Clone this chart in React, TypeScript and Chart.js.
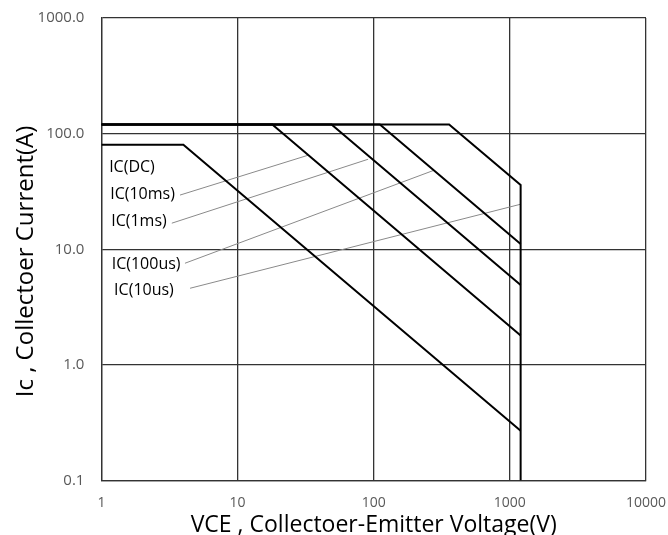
import React, { useEffect, useRef } from "react";
import { Chart, registerables } from "chart.js";

Chart.register(...registerables);

// Axis ticks
const xTickValues = [1, 10, 100, 1000, 10000];
const yTickValues = [0.1, 1, 10, 100, 1000];

// Safe operating area curves (VCE in V, Ic in A)
const dcVoltage = [1, 4, 1200];
const dcCurrent = [80, 80, 0.27];
const ms10Voltage = [1, 18, 1200];
const ms10Current = [120, 120, 1.8];
const ms1Voltage = [1, 49, 1200];
const ms1Current = [120, 120, 4.9];
const us100Voltage = [1, 111, 1200];
const us100Current = [120, 120, 11.1];
const us10Voltage = [1, 358, 1200, 1200];
const us10Current = [120, 120, 36, 0.1];

// Curve labels (anchored in data coordinates)
const labelNames = ["IC(DC)", "IC(10ms)", "IC(1ms)", "IC(100us)", "IC(10us)"];
const labelVoltage = [1.14, 1.16, 1.18, 1.19, 1.24];
const labelCurrent = [50.7, 29.5, 17.3, 7.46, 4.39];

// Leader lines from labels to curves
const leaderStartV = [3.78, 3.29, 4.11, 4.48];
const leaderStartI = [29.4, 16.8, 7.57, 4.6];
const leaderEndV = [33, 91, 275, 1200];
const leaderEndI = [65, 60, 48, 24.5];

const xTitle = "VCE , Collectoer-Emitter Voltage(V)";
const yTitle = "Ic , Collectoer Current(A)";

const FONT = '"Open Sans", "DejaVu Sans", sans-serif';

function pts(xs: number[], ys: number[]) {
  return xs.map((v, i) => ({ x: v, y: ys[i] }));
}

export default function App() {
  const ref = useRef<HTMLCanvasElement | null>(null);

  useEffect(() => {
    if (!ref.current) return;
    const curve = (label: string, xs: number[], ys: number[]) => ({
      label,
      data: pts(xs, ys),
      borderColor: "#000000",
      borderWidth: 2,
      pointRadius: 0,
      fill: false,
      tension: 0,
      borderJoinStyle: "miter" as const,
    });
    const leaders = leaderStartV.map((v, i) => ({
      label: "leader" + i,
      data: [
        { x: v, y: leaderStartI[i] },
        { x: leaderEndV[i], y: leaderEndI[i] },
      ],
      borderColor: "#8a8a8a",
      borderWidth: 1,
      pointRadius: 0,
      fill: false,
      tension: 0,
    }));

    const annotate = {
      id: "annotate",
      afterDatasetsDraw(chart: any) {
        const { ctx, chartArea } = chart;
        const xs = chart.scales.x;
        const ys = chart.scales.y;
        ctx.save();
        ctx.fillStyle = "#000000";
        ctx.font = `16px ${FONT}`;
        ctx.textAlign = "left";
        ctx.textBaseline = "middle";
        labelNames.forEach((t, i) => {
          ctx.fillText(t, xs.getPixelForValue(labelVoltage[i]), ys.getPixelForValue(labelCurrent[i]));
        });
        ctx.font = `23px ${FONT}`;
        ctx.textAlign = "center";
        ctx.textBaseline = "alphabetic";
        ctx.fillText(xTitle, (chartArea.left + chartArea.right) / 2, 532);
        ctx.translate(33, 261.5);
        ctx.rotate(-Math.PI / 2);
        ctx.font = `24px ${FONT}`;
        ctx.fillText(yTitle, 0, 0);
        ctx.restore();
      },
    };

    const noOverhang = (s: any) => {
      s.paddingLeft = 0;
      s.paddingRight = 0;
      s.paddingTop = 0;
      s.paddingBottom = 0;
    };

    const chart = new Chart(ref.current, {
      type: "line",
      data: {
        datasets: [
          curve("IC(DC)", dcVoltage, dcCurrent),
          curve("IC(10ms)", ms10Voltage, ms10Current),
          curve("IC(1ms)", ms1Voltage, ms1Current),
          curve("IC(100us)", us100Voltage, us100Current),
          curve("IC(10us)", us10Voltage, us10Current),
          ...leaders,
        ],
      },
      options: {
        responsive: false,
        animation: false,
        layout: { padding: { top: 17.9, right: 22, bottom: 0, left: 0 } },
        plugins: {
          legend: { display: false },
          tooltip: { enabled: false },
          title: { display: false },
        },
        scales: {
          x: {
            type: "logarithmic",
            min: 1,
            max: 10000,
            afterBuildTicks: (s: any) => {
              s.ticks = xTickValues.map((v) => ({ value: v }));
            },
            afterFit: (s: any) => {
              s.height = 54.4;
              noOverhang(s);
            },
            ticks: {
              color: "#595959",
              font: { family: FONT, size: 14 },
              padding: 14,
              maxRotation: 0,
              autoSkip: false,
              callback: (v: any) => String(v),
            },
            grid: { color: "#333333", lineWidth: 1.3, drawTicks: false },
            border: { color: "#333333", width: 1.3 },
          },
          y: {
            type: "logarithmic",
            min: 0.1,
            max: 1000,
            afterBuildTicks: (s: any) => {
              s.ticks = yTickValues.map((v) => ({ value: v }));
            },
            afterFit: (s: any) => {
              s.width = 101.4;
              noOverhang(s);
            },
            ticks: {
              color: "#595959",
              font: { family: FONT, size: 15 },
              padding: 17,
              autoSkip: false,
              callback: (v: any) => Number(v).toFixed(1),
            },
            grid: { color: "#333333", lineWidth: 1.3, drawTicks: false },
            border: { color: "#333333", width: 1.3 },
          },
        },
      },
      plugins: [annotate],
    });
    return () => chart.destroy();
  }, []);

  return (
    <div style={{ position: "fixed", left: 0, top: 0, width: 668, height: 535, background: "#fff" }}>
      <canvas ref={ref} width={668} height={535} style={{ width: 668, height: 535, display: "block" }} />
    </div>
  );
}
